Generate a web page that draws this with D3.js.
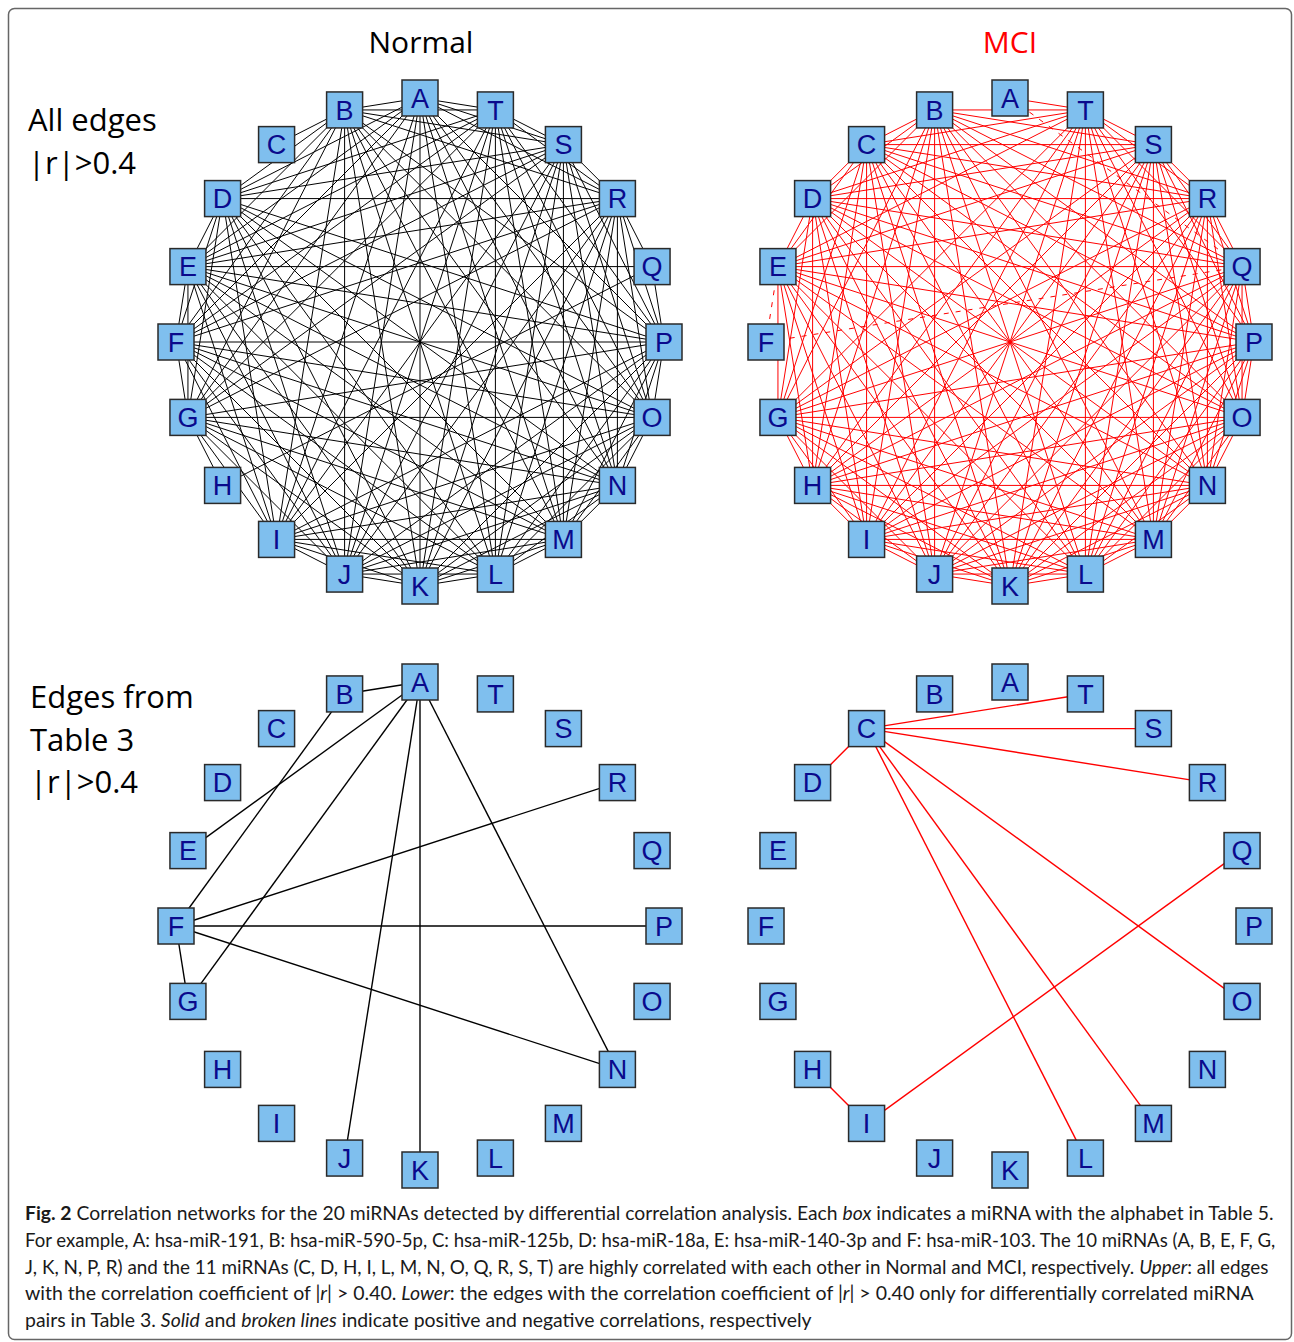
<!DOCTYPE html>
<html>
<head>
<meta charset="utf-8">
<script src="https://cdn.jsdelivr.net/npm/d3@7"></script>
<style>
  body { margin: 0; background: #fff; }
  svg { display: block; }
</style>
</head>
<body>
<svg id="fig" width="1294" height="1342"></svg>
<script>
// miRNA nodes, placed counter-clockwise from the top in alphabetical order
const nodes = ["A","B","C","D","E","F","G","H","I","J","K","L","M","N","O","P","Q","R","S","T"];

// Upper Normal network: every pair with |r| > 0.4 (node : later partners)
const normalAllEdges = [
  "A:BDEFGIJKLMNOPRST", "B:CDEFGIJKLMNOPRST", "D:EFGIJKLMNOPRST",
  "E:FGIJKLMNOPQRST", "F:GIJKLMNOPRST", "G:HIJKLMNOPRST", "H:Q",
  "I:JKLMNOPRST", "J:KLMNOPRST", "K:LMNOPRST", "L:MNOPRST", "M:NOPRST",
  "N:OPRST", "O:PRST", "P:QRST", "Q:R", "R:ST", "S:T"
];
const normalAllNegative = [];

// Upper MCI network: positive (solid) and negative (broken) correlations
const mciAllEdges = [
  "A:T", "B:CDEGHIJKLMNOPQRST", "C:DEGHIJKLMNOPQRST", "D:EGHIJKLMNOPQRST",
  "E:GHIJKLMNOPQRST", "G:HIJKLMNOPQRST", "H:IJKLMNOPQRST", "I:JKLMNOPQRST",
  "J:KLMNOPQRST", "K:LMNOPQRST", "L:MNOPQRST", "M:NOPQRST", "N:OPQRST",
  "O:PQRST", "P:QRST", "Q:RST", "R:ST", "S:T"
];
const mciAllNegative = ["A:Q", "E:F", "F:Q"];

// Lower networks: differentially correlated pairs from Table 3
const normalTable3Edges = ["A:BEGJKN", "B:F", "F:GNPR"];
const mciTable3Edges = ["C:DLMORST", "H:I", "I:Q"];

// Panel and row labels
const columnTitles = ["Normal", "MCI"];
const rowLabels = [["All edges", "|r|>0.4"], ["Edges from", "Table 3", "|r|>0.4"]];

// Caption, one array of [text, style] runs per printed line
const captionLines = [
  [["Fig. 2", "b"], [" Correlation networks for the 20 miRNAs detected by differential correlation analysis. Each ", ""], ["box", "i"], [" indicates a miRNA with the alphabet in Table 5.", ""]],
  [["For example, A: hsa-miR-191, B: hsa-miR-590-5p, C: hsa-miR-125b, D: hsa-miR-18a, E: hsa-miR-140-3p and F: hsa-miR-103. The 10 miRNAs (A, B, E, F, G,", ""]],
  [["J, K, N, P, R) and the 11 miRNAs (C, D, H, I, L, M, N, O, Q, R, S, T) are highly correlated with each other in Normal and MCI, respectively. ", ""], ["Upper", "i"], [": all edges", ""]],
  [["with the correlation coefficient of |", ""], ["r", "i"], ["| > 0.40. ", ""], ["Lower", "i"], [": the edges with the correlation coefficient of |", ""], ["r", "i"], ["| > 0.40 only for differentially correlated miRNA", ""]],
  [["pairs in Table 3. ", ""], ["Solid", "i"], [" and ", ""], ["broken lines", "i"], [" indicate positive and negative correlations, respectively", ""]]
];

// ---- helpers -------------------------------------------------------------
function parseAdj(list) {
  const out = [];
  list.forEach(s => {
    const [a, rest] = s.split(":");
    rest.split("").forEach(b => out.push([a, b]));
  });
  return out;
}

const svg = d3.select("#fig");

// outer frame
svg.append("rect")
  .attr("x", 8.5).attr("y", 8.5).attr("width", 1283).attr("height", 1331)
  .attr("rx", 6).attr("fill", "none").attr("stroke", "#666").attr("stroke-width", 1.5);

// angle of each node around the ring
const angle = d3.scaleLinear()
  .domain([0, nodes.length])
  .range([-Math.PI / 2, -Math.PI / 2 - 2 * Math.PI]);
const idx = d3.scaleOrdinal().domain(nodes).range(d3.range(nodes.length));

const ringRadius = 244;
const boxSize = 36;

const panels = [
  { cx: 420,  cy: 342, pos: normalAllEdges,    neg: normalAllNegative, color: "#000", width: 1 },
  { cx: 1010, cy: 342, pos: mciAllEdges,       neg: mciAllNegative,    color: "#ff0000", width: 1 },
  { cx: 420,  cy: 926, pos: normalTable3Edges, neg: [],                color: "#000", width: 1.4 },
  { cx: 1010, cy: 926, pos: mciTable3Edges,    neg: [],                color: "#ff0000", width: 1.4 }
];

panels.forEach(p => {
  const x = d3.scaleLinear().domain([-1, 1]).range([p.cx - ringRadius, p.cx + ringRadius]);
  const y = d3.scaleLinear().domain([-1, 1]).range([p.cy - ringRadius, p.cy + ringRadius]);
  const px = n => x(Math.cos(angle(idx(n))));
  const py = n => y(Math.sin(angle(idx(n))));

  const g = svg.append("g");
  const edges = parseAdj(p.pos).map(e => ({ e, dash: false }))
    .concat(parseAdj(p.neg).map(e => ({ e, dash: true })));

  g.append("g").selectAll("line").data(edges).join("line")
    .attr("x1", d => px(d.e[0])).attr("y1", d => py(d.e[0]))
    .attr("x2", d => px(d.e[1])).attr("y2", d => py(d.e[1]))
    .attr("stroke", p.color)
    .attr("stroke-width", p.width)
    .attr("stroke-dasharray", d => d.dash ? "5,7" : null);

  const ng = g.append("g").selectAll("g").data(nodes).join("g")
    .attr("transform", n => `translate(${px(n)},${py(n)})`);
  ng.append("rect")
    .attr("x", -boxSize / 2).attr("y", -boxSize / 2)
    .attr("width", boxSize).attr("height", boxSize)
    .attr("fill", "#7fbfee").attr("stroke", "#2a2a2a").attr("stroke-width", 1.5);
  ng.append("text")
    .attr("text-anchor", "middle").attr("y", 9.6)
    .attr("font-family", "Liberation Sans, Arial, sans-serif")
    .attr("font-size", 27).attr("fill", "#0a0a8c")
    .text(n => n);
});

// column titles
svg.selectAll(".coltitle").data(columnTitles).join("text")
  .attr("class", "coltitle")
  .attr("x", (d, i) => [421, 1010][i]).attr("y", 53)
  .attr("text-anchor", "middle")
  .attr("font-family", "Open Sans, sans-serif").attr("font-size", 30)
  .attr("fill", (d, i) => i === 0 ? "#000" : "#ff0000")
  .text(d => d);

// row labels
const rowTop = [131, 708];
rowLabels.forEach((lines, r) => {
  svg.append("g").selectAll("text").data(lines).join("text")
    .attr("x", r === 0 ? 28 : 30)
    .attr("y", (d, i) => rowTop[r] + i * 42.5)
    .attr("font-family", "Open Sans, sans-serif").attr("font-size", 31)
    .attr("fill", "#000")
    .text(d => d);
});

// caption: each line is fitted to its printed width
const captionStart = 25;
const captionEnds = [1274, 1276, 1269, 1254, 812];
const captionBase = 1220;
const captionStep = 26.8;
captionLines.forEach((runs, i) => {
  const lg = svg.append("g");
  const t = lg.append("text")
    .attr("x", 0).attr("y", 0)
    .attr("font-family", "Lato, Open Sans, sans-serif").attr("font-size", 19.5)
    .attr("fill", "#1a1a1a");
  runs.forEach(([txt, st]) => {
    t.append("tspan")
      .attr("font-weight", st === "b" ? "bold" : null)
      .attr("font-style", st === "i" ? "italic" : null)
      .text(txt);
  });
  const w = t.node().getComputedTextLength();
  const sx = (captionEnds[i] - captionStart) / w;
  lg.attr("transform", `translate(${captionStart},${captionBase + i * captionStep}) scale(${sx},1)`);
});
</script>
</body>
</html>
